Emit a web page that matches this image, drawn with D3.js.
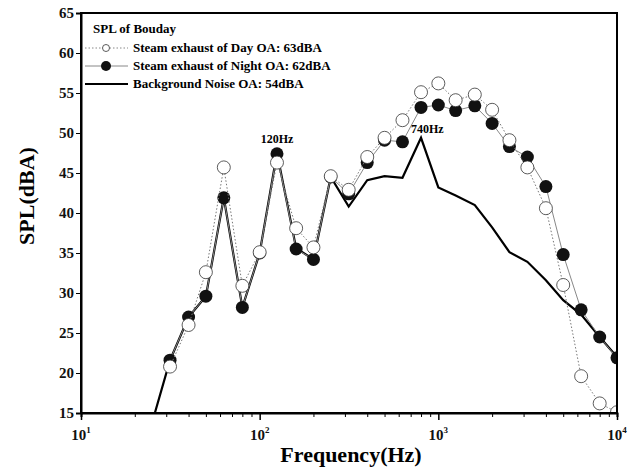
<!DOCTYPE html>
<html>
<head>
<meta charset="utf-8">
<script src="https://cdn.jsdelivr.net/npm/d3@7"></script>
<style>
  body { margin: 0; background: #fff; }
  text { font-family: "Liberation Serif", "DejaVu Serif", serif; font-weight: bold; }
</style>
</head>
<body>
<div id="chart"></div>
<script>
// third-octave band centre frequencies (Hz)
var bands = [31.5, 40, 50, 63, 80, 100, 125, 160, 200, 250, 315, 400, 500, 630, 800,
             1000, 1250, 1600, 2000, 2500, 3150, 4000, 5000, 6300, 8000, 10000];
var daySpl = [20.8, 26.0, 32.6, 45.7, 30.9, 35.1, 46.3, 38.1, 35.7, 44.6, 42.9, 47.0, 49.4,
              51.6, 55.1, 56.2, 54.1, 54.8, 52.9, 49.1, 45.7, 40.6, 31.0, 19.6, 16.2, 15.1];
var nightSpl = [21.6, 27.0, 29.6, 41.9, 28.2, 35.0, 47.4, 35.5, 34.2, 44.5, 42.4, 46.3, 49.1,
                48.9, 53.2, 53.5, 52.8, 53.4, 51.2, 48.3, 47.0, 43.3, 34.8, 27.9, 24.5, 21.9];
// background noise also has a 25 Hz band that falls below the axis
var bgBands = [25].concat(bands);
var bgSpl = [13.8, 21.6, 27.0, 29.6, 41.9, 28.2, 35.0, 47.5, 35.6, 34.2, 44.5, 40.8, 44.1,
             44.6, 44.4, 49.4, 43.2, 42.2, 41.0, 38.2, 35.1, 33.9, 31.6, 29.1, 27.3, 24.5, 22.0];
var yTicks = [15, 20, 25, 30, 35, 40, 45, 50, 55, 60, 65];
var xTicks = [10, 100, 1000, 10000];
var legendTitle = "SPL of Bouday";
var legendNames = ["Steam exhaust of Day OA: 63dBA",
                   "Steam exhaust of Night OA: 62dBA",
                   "Background Noise OA: 54dBA"];
var peakNotes = [{f: 125, v: 47.5, label: "120Hz"}, {f: 800, v: 49.4, label: "740Hz"}];

var W = 634, H = 473;
var margin = {top: 13, right: 17, bottom: 60, left: 81};
var w = W - margin.left - margin.right;
var h = H - margin.top - margin.bottom;

var svg = d3.select("#chart")
  .append("svg")
  .attr("width", W)
  .attr("height", H);

var g = svg.append("g")
  .attr("transform", "translate(" + margin.left + "," + margin.top + ")");

var x = d3.scaleLog().domain([10, 10000]).range([0, w]);
var y = d3.scaleLinear().domain([15, 65]).range([h, 0]);

g.append("clipPath")
  .attr("id", "plot-clip")
  .append("rect")
  .attr("width", w)
  .attr("height", h);

var plot = g.append("g").attr("clip-path", "url(#plot-clip)");

var line = d3.line()
  .x((d) => x(d[0]))
  .y((d) => y(d[1]));

// background noise
plot.append("path")
  .datum(d3.zip(bgBands, bgSpl))
  .attr("fill", "none")
  .attr("stroke", "#000")
  .attr("stroke-width", 2.2)
  .attr("stroke-linejoin", "miter")
  .attr("d", line);

// night - filled circles, thin grey line
plot.append("path")
  .datum(d3.zip(bands, nightSpl))
  .attr("fill", "none")
  .attr("stroke", "#888")
  .attr("stroke-width", 1)
  .attr("d", line);

plot.selectAll(".night")
  .data(d3.zip(bands, nightSpl))
  .enter()
  .append("circle")
  .attr("class", "night")
  .attr("cx", (d) => x(d[0]))
  .attr("cy", (d) => y(d[1]))
  .attr("r", 6.5)
  .attr("fill", "#111");

// day - open circles, dotted line
plot.append("path")
  .datum(d3.zip(bands, daySpl))
  .attr("fill", "none")
  .attr("stroke", "#777")
  .attr("stroke-width", 1)
  .attr("stroke-dasharray", "1.5,2")
  .attr("d", line);

plot.selectAll(".day")
  .data(d3.zip(bands, daySpl))
  .enter()
  .append("circle")
  .attr("class", "day")
  .attr("cx", (d) => x(d[0]))
  .attr("cy", (d) => y(d[1]))
  .attr("r", 6.5)
  .attr("fill", "#fff")
  .attr("stroke", "#333")
  .attr("stroke-width", 0.8);

// frame
g.append("rect")
  .attr("width", w)
  .attr("height", h)
  .attr("fill", "none")
  .attr("stroke", "#000")
  .attr("stroke-width", 2);

// y axis
var yAxis = d3.axisLeft(y)
  .tickValues(yTicks)
  .tickSize(5)
  .tickPadding(2);

var yg = g.append("g").call(yAxis);
yg.select(".domain").attr("stroke-width", 2);
yg.selectAll("text").attr("font-size", 15).attr("fill", "#111");

// x axis: minor ticks
var minor = [];
[10, 100, 1000].forEach((dec) => {
  for (var k = 2; k <= 9; k++) minor.push(dec * k);
});

var xg = g.append("g")
  .attr("transform", "translate(0," + h + ")")
  .call(d3.axisBottom(x).tickValues(minor).tickSize(4).tickFormat(""));
xg.select(".domain").attr("stroke-width", 2);

var xMajor = g.append("g")
  .attr("transform", "translate(0," + h + ")")
  .call(d3.axisBottom(x).tickValues(xTicks).tickSize(7).tickFormat(""));
xMajor.select(".domain").remove();
xMajor.selectAll("line").attr("stroke-width", 1.5);

var xLab = g.append("g").selectAll("text")
  .data(xTicks)
  .enter()
  .append("text")
  .attr("x", (d) => x(d))
  .attr("y", h + 27)
  .attr("text-anchor", "middle")
  .attr("font-size", 15)
  .attr("font-weight", "normal")
  .attr("fill", "#111");
xLab.append("tspan").text("10");
xLab.append("tspan")
  .attr("font-size", 9)
  .attr("dy", -7)
  .text((d) => Math.round(Math.log10(d)));

// axis titles
svg.append("text")
  .attr("x", 351)
  .attr("y", 462)
  .attr("text-anchor", "middle")
  .attr("font-size", 22)
  .text("Frequency(Hz)");

svg.append("text")
  .attr("transform", "translate(34,196) rotate(-90)")
  .attr("text-anchor", "middle")
  .attr("font-size", 22)
  .text("SPL(dBA)");

// peak notes
g.selectAll(".note")
  .data(peakNotes)
  .enter()
  .append("text")
  .attr("class", "note")
  .attr("x", (d) => x(d.f))
  .attr("y", (d, i) => y(d.v) - (i == 0 ? 10 : 5))
  .attr("text-anchor", (d, i) => i == 0 ? "middle" : "start")
  .attr("dx", (d, i) => i == 0 ? 0 : -10)
  .attr("font-size", 12)
  .text((d) => d.label);

// legend
var leg = svg.append("g").attr("transform", "translate(83,0)");
leg.append("text")
  .attr("x", 10)
  .attr("y", 33)
  .attr("font-size", 13)
  .text(legendTitle);

var legY = [48, 66, 84];
legendNames.forEach((name, i) => {
  var row = leg.append("g").attr("transform", "translate(0," + legY[i] + ")");
  var ln = row.append("line")
    .attr("x1", 2).attr("x2", 45)
    .attr("stroke", i == 2 ? "#000" : "#888")
    .attr("stroke-width", i == 2 ? 2 : 1);
  if (i == 0) ln.attr("stroke-dasharray", "1.5,2");
  if (i == 0) {
    row.append("circle").attr("cx", 23).attr("r", 3.5)
      .attr("fill", "#fff").attr("stroke", "#333").attr("stroke-width", 0.8);
  }
  if (i == 1) {
    row.append("circle").attr("cx", 23).attr("r", 5).attr("fill", "#111");
  }
  row.append("text")
    .attr("x", 50)
    .attr("y", 4)
    .attr("font-size", 13)
    .text(name);
});
</script>
</body>
</html>
